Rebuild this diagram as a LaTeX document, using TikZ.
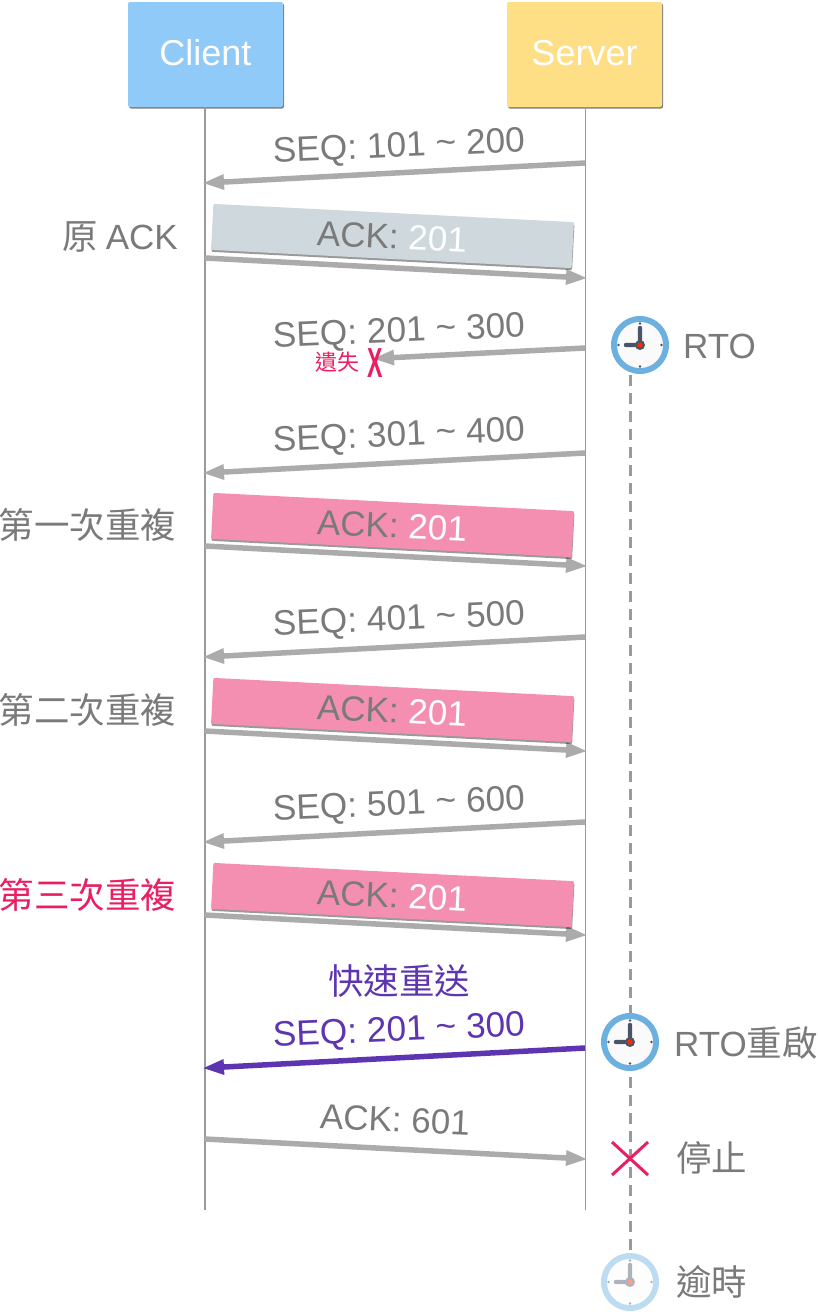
\documentclass[tikz,border=0pt]{standalone}
\usepackage{fontspec}
\setmainfont{Liberation Sans}
\newfontfamily\cjkfont{Noto Sans CJK TC}
\usetikzlibrary{arrows.meta,shadows}
\definecolor{txtgrey}{HTML}{7A7A7A}
\definecolor{arrowgrey}{HTML}{ABABAB}
\definecolor{lifegrey}{HTML}{9A9A9A}
\definecolor{clientblue}{HTML}{90CAF9}
\definecolor{serveryellow}{HTML}{FFDF85}
\definecolor{notepink}{HTML}{F48FB1}
\definecolor{noteslate}{HTML}{CFD8DC}
\definecolor{hotpink}{HTML}{E91E63}
\definecolor{deeppurple}{HTML}{5E35B1}
\definecolor{ringblue}{HTML}{6CB0E0}
\definecolor{handdark}{HTML}{4A5468}
\tikzset{
  x=1pt,y=-1pt,
  party/.style={minimum width=155pt,minimum height=105pt,rounded corners=2pt,inner sep=0pt,
    text=white,font=\fontsize{36}{36}\selectfont,
    drop shadow={shadow xshift=1pt,shadow yshift=-1.5pt,opacity=.5,fill=black}},
  lifeline/.style={draw=lifegrey,line width=1.6pt},
  msg/.style={draw=arrowgrey,line width=5.5pt,shorten >=-3pt,-{Triangle[length=22pt,width=14pt]}},
  msgp/.style={draw=deeppurple,line width=5.5pt,shorten >=-3pt,-{Triangle[length=22pt,width=14pt]}},
  seqlabel/.style={rotate=2.4,text=txtgrey,inner sep=0pt,font=\fontsize{35.3}{35}\selectfont},
  acklabel/.style={rotate=-2.7,text=txtgrey,inner sep=0pt,font=\fontsize{35}{35}\selectfont},
  sidelabel/.style={text=txtgrey,inner sep=0pt,font=\fontsize{35.5}{35}\cjkfont},
  note/.style={minimum width=361pt,minimum height=46pt,inner sep=0pt,rotate=-2.9,
    rounded corners=1pt,drop shadow={shadow xshift=0.5pt,shadow yshift=-2pt,opacity=.4,fill=black}},
  timer/.style={draw=lifegrey,line width=3pt,dash pattern=on 11pt off 7pt},
}
\newcommand{\clockat}[3]{% name, centre, opacity
  \begin{scope}[shift={#2},opacity=#3,transparency group]
    \node[circle,fill=ringblue,minimum size=58pt,inner sep=0pt] (#1) at (0,0) {};
    \fill[white!98!black] (0,0) circle (23);
    \foreach \a in {0,90,180,270}{\fill[handdark] (\a:21.5) circle (1.3);}
    \draw[handdark,line width=4.4pt,line cap=round] (0,0) -- (0,-17);
    \draw[handdark,line width=4.4pt,line cap=round] (0,0) -- (-14,0);
    \fill[handdark] (0,0) circle (5);
    \fill[red!70!orange] (0,0) circle (2.6);
  \end{scope}}
\begin{document}
\begin{tikzpicture}
\useasboundingbox (0,0) rectangle (817,1312);
% parties
\node[party,fill=clientblue] (client) at (205.5,54.5) {\raisebox{4pt}{Client}};
\node[party,fill=serveryellow] (server) at (584.5,54.5) {\raisebox{4pt}{Server}};
\coordinate (cend) at (205,1210);
\coordinate (send) at (585.5,1210);
\draw[lifeline] (205,107) -- (cend);
\draw[lifeline] (585.5,107) -- (send);
% coordinates on lifelines
\coordinate (s1) at (585,163);  \coordinate (c1) at (205,183);
\coordinate (c2) at (205,258);  \coordinate (s2) at (585,278);
\coordinate (s3) at (585,348);  \coordinate (x3) at (375,358.5);
\coordinate (s4) at (585,453);  \coordinate (c4) at (205,473);
\coordinate (c5) at (205,546);  \coordinate (s5) at (585,566);
\coordinate (s6) at (585,637);  \coordinate (c6) at (205,657);
\coordinate (c7) at (205,731);  \coordinate (s7) at (585,751);
\coordinate (s8) at (585,822);  \coordinate (c8) at (205,842);
\coordinate (c9) at (205,915);  \coordinate (s9) at (585,935);
\coordinate (s10) at (585,1048); \coordinate (c10) at (205,1068);
\coordinate (c11) at (205,1139); \coordinate (s11) at (585,1159);
% arrows
\draw[msg] (s1) -- (c1);
\draw[msg] (c2) -- (s2);
\draw[msg] (s3) -- (x3);
\draw[msg] (s4) -- (c4);
\draw[msg] (c5) -- (s5);
\draw[msg] (s6) -- (c6);
\draw[msg] (c7) -- (s7);
\draw[msg] (s8) -- (c8);
\draw[msg] (c9) -- (s9);
\draw[msgp] (s10) -- (c10);
\draw[msg] (c11) -- (s11);
% notes
\node[note,fill=noteslate] (n1) at (392.5,236) {};
\node[note,fill=notepink] (n2) at (392.5,525) {};
\node[note,fill=notepink] (n3) at (392.5,710) {};
\node[note,fill=notepink] (n4) at (392.5,895) {};
\foreach \nm/\yy in {a1/237,a2/526,a3/711,a4/896}
  \node[acklabel] (\nm) at (392,\yy) {ACK: \textcolor{white}{201}};
% seq labels
\node[seqlabel] (l1) at (399,148) {SEQ: 101 \raisebox{1pt}{\char`\~} 200};
\node[seqlabel] (l3) at (399,333) {SEQ: 201 \raisebox{1pt}{\char`\~} 300};
\node[seqlabel] (l4) at (399,437) {SEQ: 301 \raisebox{1pt}{\char`\~} 400};
\node[seqlabel] (l6) at (399,621) {SEQ: 401 \raisebox{1pt}{\char`\~} 500};
\node[seqlabel] (l8) at (399,806) {SEQ: 501 \raisebox{1pt}{\char`\~} 600};
\node[seqlabel,text=deeppurple] (l10) at (399,1032) {SEQ: 201 \raisebox{1pt}{\char`\~} 300};
\node[acklabel] (l11) at (395,1120) {ACK: 601};
\node[sidelabel,text=deeppurple] (fast) at (399,981) {快速重送};
% lost
\node[text=hotpink,inner sep=0pt,font=\fontsize{22}{22}\cjkfont] (lost) at (337,362) {遺失};
\node[text=hotpink,inner sep=0pt,xscale=.55,font=\fontsize{42}{42}\bfseries] (lostx) at (375.5,363) {X};
% side labels
\node[sidelabel,anchor=east] (orig) at (178,237) {原 {\fontsize{35}{35}\rmfamily ACK}};
\node[sidelabel,anchor=east] (d1) at (176.5,525) {第一次重複};
\node[sidelabel,anchor=east] (d2) at (176.5,710) {第二次重複};
\node[sidelabel,anchor=east,text=hotpink] (d3) at (176.5,895) {第三次重複};
% timer line
\coordinate (tstart) at (630,375);
\coordinate (tend) at (630,1255);
\draw[timer] (tstart) -- (tend);
% clocks
\clockat{k1}{(640,345)}{1}
\clockat{k2}{(630,1042)}{1}
\clockat{k3}{(630,1282)}{.45}
\node[sidelabel,anchor=west,font=\fontsize{35}{35}\rmfamily] (rto) at (683,346) {RTO};
\node[sidelabel,anchor=west] (rto2) at (674,1043) {{\fontsize{35}{35}\rmfamily RTO}重啟};
% stop
\coordinate (xa) at (612,1142); \coordinate (xb) at (648,1175);
\coordinate (xc) at (648,1142); \coordinate (xd) at (612,1175);
\draw[hotpink,line width=3pt] (xa) -- (xb);
\draw[hotpink,line width=3pt] (xc) -- (xd);
\node[sidelabel,anchor=west] (stop) at (676,1158) {停止};
\node[sidelabel,anchor=west] (late) at (676,1282) {逾時};
\end{tikzpicture}
\end{document}
